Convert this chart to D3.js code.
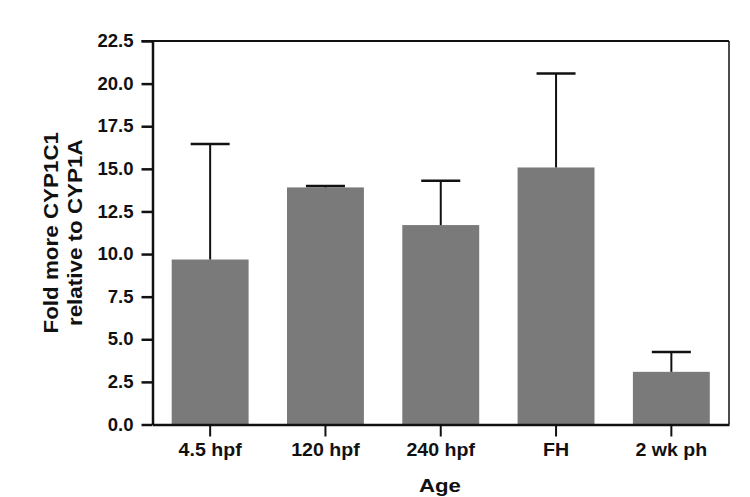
<!DOCTYPE html>
<html><head><meta charset="utf-8">
<script src="https://cdn.jsdelivr.net/npm/d3@7"></script>
<style>body{margin:0;background:#fff}svg{display:block}text{font-family:"Liberation Sans",Arial,sans-serif;font-weight:bold;fill:#111}</style>
</head><body><svg id="c" width="750" height="497"></svg>
<script>
const categories = ["4.5 hpf", "120 hpf", "240 hpf", "FH", "2 wk ph"];
const means = [9.68, 13.91, 11.7, 15.08, 3.09];
const errTops = [16.45, 14.0, 14.3, 20.6, 4.26];
const yTicks = [0, 2.5, 5, 7.5, 10, 12.5, 15, 17.5, 20, 22.5];

const svg = d3.select("#c");
const L = 152.5, R = 729, T = 41, B = 424.5;
const x = d3.scaleBand().domain(categories).range([L, R]).paddingInner(0.333).paddingOuter(0.1665);
const y = d3.scaleLinear().domain([0, 22.5]).range([B, T]);

// bars
svg.selectAll("rect.bar").data(categories).enter().append("rect")
  .attr("x", d => x(d)).attr("width", x.bandwidth())
  .attr("y", (d, i) => y(means[i])).attr("height", (d, i) => B - y(means[i]))
  .attr("fill", "#7a7a7a");

// error bars
const eb = svg.selectAll("g.err").data(categories).enter().append("g");
eb.append("line").attr("x1", d => x(d) + x.bandwidth() / 2).attr("x2", d => x(d) + x.bandwidth() / 2)
  .attr("y1", (d, i) => y(means[i])).attr("y2", (d, i) => y(errTops[i]))
  .attr("stroke", "#111").attr("stroke-width", 2);
eb.append("line").attr("x1", d => x(d) + x.bandwidth() / 2 - 19.5).attr("x2", d => x(d) + x.bandwidth() / 2 + 19.5)
  .attr("y1", (d, i) => y(errTops[i])).attr("y2", (d, i) => y(errTops[i]))
  .attr("stroke", "#111").attr("stroke-width", 2.5);

// frame top/right
svg.append("line").attr("x1", L - 11).attr("x2", R).attr("y1", T).attr("y2", T).attr("stroke", "#111").attr("stroke-width", 2);
svg.append("line").attr("x1", R).attr("x2", R).attr("y1", T).attr("y2", B).attr("stroke", "#111").attr("stroke-width", 1.5);

// y axis
const ya = svg.append("g").attr("transform", `translate(${L},0)`)
  .call(d3.axisLeft(y).tickValues(yTicks).tickFormat(d3.format(".1f")).tickSize(11).tickSizeOuter(0).tickPadding(8));
ya.select(".domain").attr("stroke", "#111").attr("stroke-width", 2.5);
ya.selectAll(".tick line").attr("stroke", "#111").attr("stroke-width", 2.5);
ya.selectAll(".tick text").style("font-size", "17.5px").attr("fill", "#111")
  .attr("transform", "translate(-19,0) scale(1.06,1) translate(19,0)");

// x axis
const xa = svg.append("g").attr("transform", `translate(0,${B})`)
  .call(d3.axisBottom(x).tickSize(12).tickSizeOuter(0).tickPadding(7));
xa.select(".domain").attr("stroke", "#111").attr("stroke-width", 2.5);
xa.selectAll(".tick line").attr("stroke", "#111").attr("stroke-width", 2);
xa.selectAll(".tick text").style("font-size", "17.5px").attr("fill", "#111")
  .attr("transform", "scale(1.12,1)");

// titles
svg.append("text").attr("transform", "translate(440,492) scale(1.17,1)").attr("text-anchor", "middle").style("font-size", "19px").text("Age");
svg.append("text").attr("transform", `translate(58,${(T + B) / 2}) rotate(-90) scale(1.12,1)`).attr("text-anchor", "middle").style("font-size", "20px").text("Fold more CYP1C1");
svg.append("text").attr("transform", `translate(82,${(T + B) / 2}) rotate(-90) scale(1.12,1)`).attr("text-anchor", "middle").style("font-size", "20px").text("relative to CYP1A");
</script></body></html>
